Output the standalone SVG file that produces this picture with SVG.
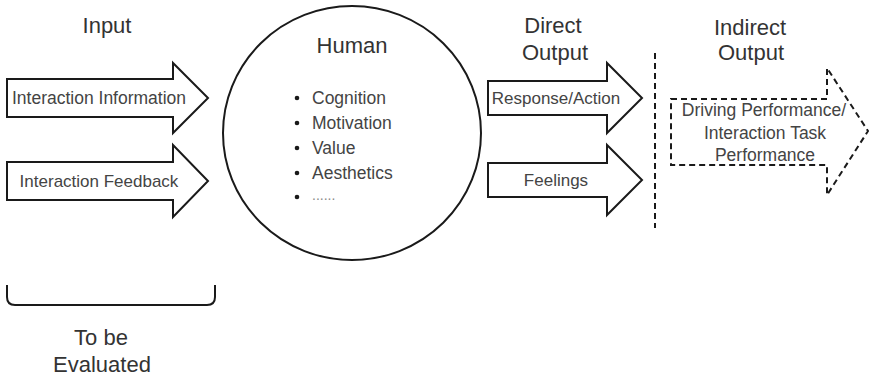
<svg xmlns="http://www.w3.org/2000/svg" width="871" height="378" viewBox="0 0 871 378">
  <style>
    .shape { fill: #ffffff; stroke: #1a1a1a; stroke-width: 2; stroke-linejoin: miter; }
    .dashed { fill: none; stroke: #1a1a1a; stroke-width: 2; stroke-dasharray: 6 4; }
    .title { font-family: "Liberation Sans", Arial, sans-serif; font-size: 22px; fill: #333333; text-anchor: middle; }
    .label { font-family: "Liberation Sans", Arial, sans-serif; font-size: 17px; fill: #444444; text-anchor: middle; }
    .item { font-family: "Liberation Sans", Arial, sans-serif; font-size: 17.5px; fill: #444444; }
    .more { font-family: "Liberation Sans", Arial, sans-serif; font-size: 14px; fill: #8a8a8a; }
    .dot { fill: #1a1a1a; }
  </style>
  <rect width="871" height="378" fill="#ffffff"/>

  <!-- column headings -->
  <text class="title" x="107" y="33">Input</text>
  <text class="title" x="553" y="33">Direct</text>
  <text class="title" x="555" y="60">Output</text>
  <text class="title" x="750" y="35">Indirect</text>
  <text class="title" x="751" y="60">Output</text>

  <!-- input arrows -->
  <g id="interaction-information">
    <polygon class="shape" points="7,79 173,79 173,63 208,98 173,133 173,117 7,117"/>
    <text class="label" x="99" y="104" style="font-size:17.5px">Interaction Information</text>
  </g>
  <g id="interaction-feedback">
    <polygon class="shape" points="7,162 173,162 173,145 208,181 173,217 173,200 7,200"/>
    <text class="label" x="99" y="187">Interaction Feedback</text>
  </g>

  <!-- human -->
  <g id="human">
    <ellipse class="shape" cx="352" cy="133" rx="129" ry="127"/>
    <text class="title" x="352" y="53">Human</text>
    <circle class="dot" cx="297" cy="98" r="2.3"/>
    <text class="item" x="312" y="104">Cognition</text>
    <circle class="dot" cx="297" cy="123" r="2.3"/>
    <text class="item" x="312" y="129">Motivation</text>
    <circle class="dot" cx="297" cy="148" r="2.3"/>
    <text class="item" x="312" y="154">Value</text>
    <circle class="dot" cx="297" cy="173" r="2.3"/>
    <text class="item" x="312" y="179">Aesthetics</text>
    <circle class="dot" cx="297" cy="197" r="2.3"/>
    <text class="more" x="312" y="200">......</text>
  </g>

  <!-- direct output arrows -->
  <g id="response-action">
    <polygon class="shape" points="488,81 607,81 607,63 642,98 607,133 607,115 488,115"/>
    <text class="label" x="556" y="104">Response/Action</text>
  </g>
  <g id="feelings">
    <polygon class="shape" points="488,163 607,163 607,145 642,180 607,215 607,197 488,197"/>
    <text class="label" x="556" y="186">Feelings</text>
  </g>

  <!-- separator between direct and indirect output -->
  <g id="separator">
    <line class="dashed" x1="655" y1="53" x2="655" y2="228"/>
  </g>

  <!-- indirect output arrow -->
  <g id="driving-performance">
    <polygon class="dashed" points="671,99 827,99 827,68 868,131 827,195 827,165 671,165"/>
    <text class="label" x="764" y="116" style="font-size:17.5px">Driving Performance/</text>
    <text class="label" x="765" y="139" style="font-size:17.5px">Interaction Task</text>
    <text class="label" x="765" y="161" style="font-size:17.5px">Performance</text>
  </g>

  <!-- brace under the input column -->
  <g id="to-be-evaluated">
    <path d="M7,285 V297 Q7,305 15,305 H207 Q215,305 215,297 V285" fill="none" stroke="#1a1a1a" stroke-width="2"/>
    <text class="title" x="101" y="345">To be</text>
    <text class="title" x="102" y="372">Evaluated</text>
  </g>
</svg>
